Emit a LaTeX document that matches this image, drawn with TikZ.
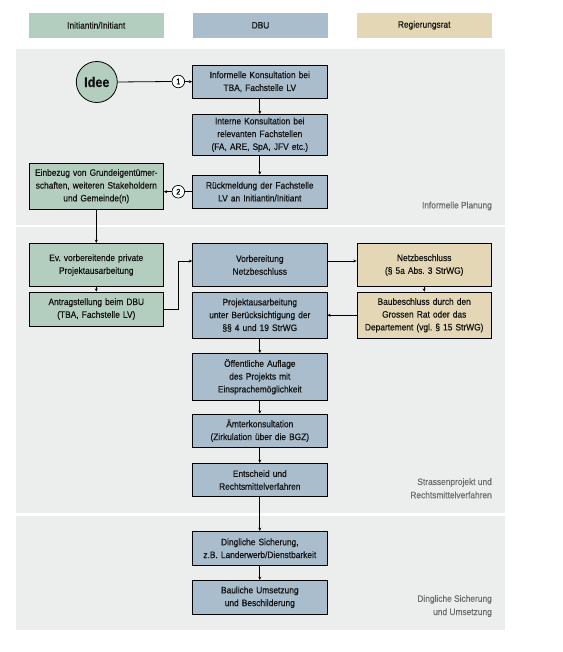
\documentclass[tikz,border=0pt]{standalone}
\usepackage{fontspec}
\setmainfont[FakeStretch=0.9,FakeBold=0.6]{Liberation Sans}
\usetikzlibrary{arrows.meta,calc}
\frenchspacing
\definecolor{cgreen}{HTML}{B3CEBE}
\definecolor{cblue}{HTML}{A9BDCD}
\definecolor{cbeige}{HTML}{E3D7B6}
\definecolor{cband}{HTML}{ECEEED}
\definecolor{ctext}{HTML}{141414}
\definecolor{clabel}{HTML}{6E6E6E}
\tikzset{
  box/.style={draw=black,line width=0.8pt,minimum width=134.5pt,text width=132pt,align=center,inner sep=0pt,font=\fontsize{9.3}{12.8}\selectfont,text=ctext},
  gbox/.style={box,fill=cgreen},
  bbox/.style={box,fill=cblue},
  ybox/.style={box,fill=cbeige},
  head/.style={minimum width=135pt,minimum height=24.7pt,inner sep=0pt,font=\fontsize{9.3}{11}\selectfont,text=ctext},
  band/.style={fill=cband,draw=none},
  num/.style={circle,draw=black,line width=0.7pt,fill=white,minimum size=12.6pt,inner sep=0pt,font=\fontsize{8}{8}\selectfont},
  conn/.style={line width=0.8pt,draw=black},
  arr/.style={conn,-{Stealth[length=3.2pt,width=3pt]}},
  blabel/.style={anchor=east,align=right,text=clabel,inner sep=0pt,font=\fontsize{9.3}{13.3}\selectfont},
}
\begin{document}
\begin{tikzpicture}[x=1pt,y=-1pt]
\useasboundingbox (0,0) rectangle (562,652);
% bands
\fill[band] (15.7,49) rectangle (505,224.7);
\fill[band] (15.7,227.3) rectangle (505,512.7);
\fill[band] (15.7,516) rectangle (505,630);
% headers
\node[head,fill=cgreen] (h1) at (96.2,25.3) {Initiantin/Initiant};
\node[head,fill=cblue] (h2) at (260.5,25.3) {DBU};
\node[head,fill=cbeige] (h3) at (424.2,25.3) {Regierungsrat};
% band labels
\node[blabel] (l1) at (492,206) {Informelle Planung};
\node[blabel] (l2) at (492,488.3) {Strassenprojekt und\\Rechtsmittelverfahren};
\node[blabel] (l3) at (492,606) {Dingliche Sicherung\\und Umsetzung};
% nodes
\node[circle,draw=black,line width=0.8pt,fill=cgreen,minimum size=41pt,inner sep=0pt,font=\fontsize{14}{14}\selectfont\bfseries,text=ctext] (idee) at (96.8,82) {Idee};
\node[bbox,minimum height=33.7pt] (b1) at (259.8,81.8) {Informelle Konsultation bei\\TBA, Fachstelle LV};
\node[bbox,minimum height=40.7pt] (b2) at (259.8,134.7) {Interne Konsultation bei\\relevanten Fachstellen\\(FA, ARE, SpA, JFV etc.)};
\node[bbox,minimum height=33.3pt] (b3) at (259.8,191.7) {Rückmeldung der Fachstelle\\LV an Initiantin/Initiant};
\node[gbox,minimum height=46.3pt] (ein) at (96.3,186.2) {Einbezug von Grundeigentümer-\\schaften, weiteren Stakeholdern\\und Gemeinde(n)};
\node[gbox,minimum height=43.4pt] (ev) at (96.3,265) {Ev. vorbereitende private\\Projektausarbeitung};
\node[gbox,minimum height=34pt] (antrag) at (96.3,309) {Antragstellung beim DBU\\(TBA, Fachstelle LV)};
\node[bbox,minimum height=43.4pt] (vorb) at (259.8,265) {Vorbereitung\\Netzbeschluss};
\node[ybox,minimum height=43.4pt] (netz) at (424.2,265) {Netzbeschluss\\(§ 5a Abs. 3 StrWG)};
\node[bbox,minimum height=46.3pt] (proj) at (259.8,315.2) {Projektausarbeitung\\unter Berücksichtigung der\\§§ 4 und 19 StrWG};
\node[ybox,minimum height=46.3pt] (bau) at (424.2,315.2) {Baubeschluss durch den\\Grossen Rat oder das\\Departement (vgl. § 15 StrWG)};
\node[bbox,minimum height=46.7pt] (oeff) at (259.8,376.7) {Öffentliche Auflage\\des Projekts mit\\Einsprachemöglichkeit};
\node[bbox,minimum height=33.3pt] (aem) at (259.8,430.7) {Ämterkonsultation\\(Zirkulation über die BGZ)};
\node[bbox,minimum height=33.4pt] (ent) at (259.8,480) {Entscheid und\\Rechtsmittelverfahren};
\node[bbox,minimum height=34pt] (ding) at (259.8,548.3) {Dingliche Sicherung,\\z.B. Landerwerb/Dienstbarkeit};
\node[bbox,minimum height=34pt] (baul) at (259.8,597.3) {Bauliche Umsetzung\\und Beschilderung};
% numbered circles
\node[num] (n1) at (178.3,81.5) {1};
\node[num] (n2) at (178.3,191.7) {2};
% connectors
\draw[conn] (idee.east) -- (n1.west);
\draw[arr] (n1.east) -- (b1.west);
\draw[arr] (b1.south) -- (b2.north);
\draw[arr] (b2.south) -- (b3.north);
\draw[conn] (b3.west) -- (n2.east);
\draw[arr] (n2.west) -- (n2.west -| ein.east);
\draw[arr] (ein.south) -- (ev.north);
\draw[arr] (ev.south) -- (antrag.north);
\coordinate (k) at (178,261);
\draw[arr] (antrag.east) -| (k) -- (k -| vorb.west);
\draw[arr] (vorb.east |- k) -- (netz.west |- k);
\draw[arr] (netz.south) -- (bau.north);
\draw[arr] (bau.west) -- (proj.east);
\draw[arr] (proj.south) -- (oeff.north);
\draw[arr] (oeff.south) -- (aem.north);
\draw[arr] (aem.south) -- (ent.north);
\draw[arr] (ent.south) -- (ding.north);
\draw[arr] (ding.south) -- (baul.north);
\end{tikzpicture}
\end{document}
